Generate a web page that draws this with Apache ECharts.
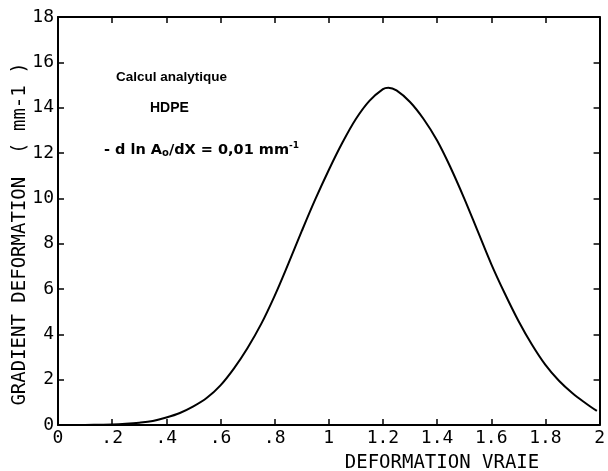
<!DOCTYPE html>
<html>
<head>
<meta charset="utf-8">
<script src="https://cdn.jsdelivr.net/npm/echarts@6/dist/echarts.min.js"></script>
<style>html,body{margin:0;padding:0;background:#fff}#c{width:608px;height:471px}</style>
</head>
<body>
<div id="c"></div>
<script>
var xValues = [0,0.05,0.1,0.15,0.2,0.25,0.3,0.35,0.4,0.45,0.5,0.55,0.6,0.65,0.7,0.75,0.8,0.85,0.9,0.95,1.0,1.05,1.1,1.15,1.2,1.22,1.25,1.3,1.35,1.4,1.45,1.5,1.55,1.6,1.65,1.7,1.75,1.8,1.85,1.9,1.95,1.99];
var gradValues = [0,0,0,0.01,0.02,0.05,0.1,0.18,0.33,0.53,0.82,1.2,1.75,2.5,3.4,4.45,5.7,7.1,8.55,9.95,11.25,12.45,13.5,14.3,14.82,14.88,14.76,14.25,13.5,12.55,11.35,10.0,8.55,7.1,5.8,4.6,3.55,2.65,1.95,1.4,0.95,0.62];
var xTickLabels = {0:'0',0.2:'.2',0.4:'.4',0.6:'.6',0.8:'.8',1:'1',1.2:'1.2',1.4:'1.4',1.6:'1.6',1.8:'1.8',2:'2'};
var yAxisTitle = 'GRADIENT DEFORMATION  ( mm-1 )';
var xAxisTitle = 'DEFORMATION VRAIE';

var mono = 'DejaVu Sans Mono';
var chart = echarts.init(document.getElementById('c'));
var data = xValues.map(function(x,i){return [x, gradValues[i]];});
function xl(v){ var k = Math.round(v*10)/10; return xTickLabels[k] !== undefined ? xTickLabels[k] : ''; }
var axisLine = {show:true, onZero:false, lineStyle:{color:'#000', width:2}};
var tick = {show:true, inside:true, length:6, lineStyle:{color:'#000', width:1.5}};
chart.setOption({
  animation:false,
  backgroundColor:'#fff',
  grid:{left:58, right:5, top:17, bottom:46},
  xAxis:[
    {type:'value', min:0, max:2, interval:0.2, position:'bottom',
     axisLine:axisLine, axisTick:tick, splitLine:{show:false},
     axisLabel:{color:'#000', fontFamily:mono, fontSize:18, margin:4, formatter:xl}},
    {type:'value', min:0, max:2, interval:0.2, position:'top',
     axisLine:axisLine, axisTick:tick, splitLine:{show:false}, axisLabel:{show:false}}
  ],
  yAxis:[
    {type:'value', min:0, max:18, interval:2, position:'left',
     axisLine:axisLine, axisTick:tick, splitLine:{show:false},
     axisLabel:{color:'#000', fontFamily:mono, fontSize:18, margin:4}},
    {type:'value', min:0, max:18, interval:2, position:'right',
     axisLine:axisLine, axisTick:tick, splitLine:{show:false}, axisLabel:{show:false}}
  ],
  series:[{type:'line', data:data, smooth:0.35, showSymbol:false,
    lineStyle:{color:'#000', width:2}, xAxisIndex:0, yAxisIndex:0}],
  graphic:[
    {type:'text', x:20, y:234, rotation:Math.PI/2, style:{text:yAxisTitle, font:'19px "DejaVu Sans Mono"', fill:'#000', align:'center', verticalAlign:'middle'}},
    {type:'text', x:442, y:463, style:{text:xAxisTitle, font:'19px "DejaVu Sans Mono"', fill:'#000', align:'center', verticalAlign:'middle'}},
    {type:'text', x:116, y:77, style:{text:'Calcul analytique', font:'bold 13.5px "Liberation Sans"', fill:'#000', verticalAlign:'middle'}},
    {type:'text', x:150, y:108, style:{text:'HDPE', font:'bold 14px "Liberation Sans"', fill:'#000', verticalAlign:'middle'}},
    {type:'text', x:104, y:150, style:{
      text:'{n|- d ln A}{s|o}{n|/dX = 0,01 mm}{p|-1}',
      verticalAlign:'middle',
      rich:{
        n:{font:'bold 14.5px "DejaVu Sans"', fill:'#000'},
        s:{font:'bold 10px "DejaVu Sans"', fill:'#000', padding:[6,0,0,0]},
        p:{font:'bold 9px "DejaVu Sans"', fill:'#000', padding:[0,0,8,0]}
      }}}
  ]
});
</script>
</body>
</html>
